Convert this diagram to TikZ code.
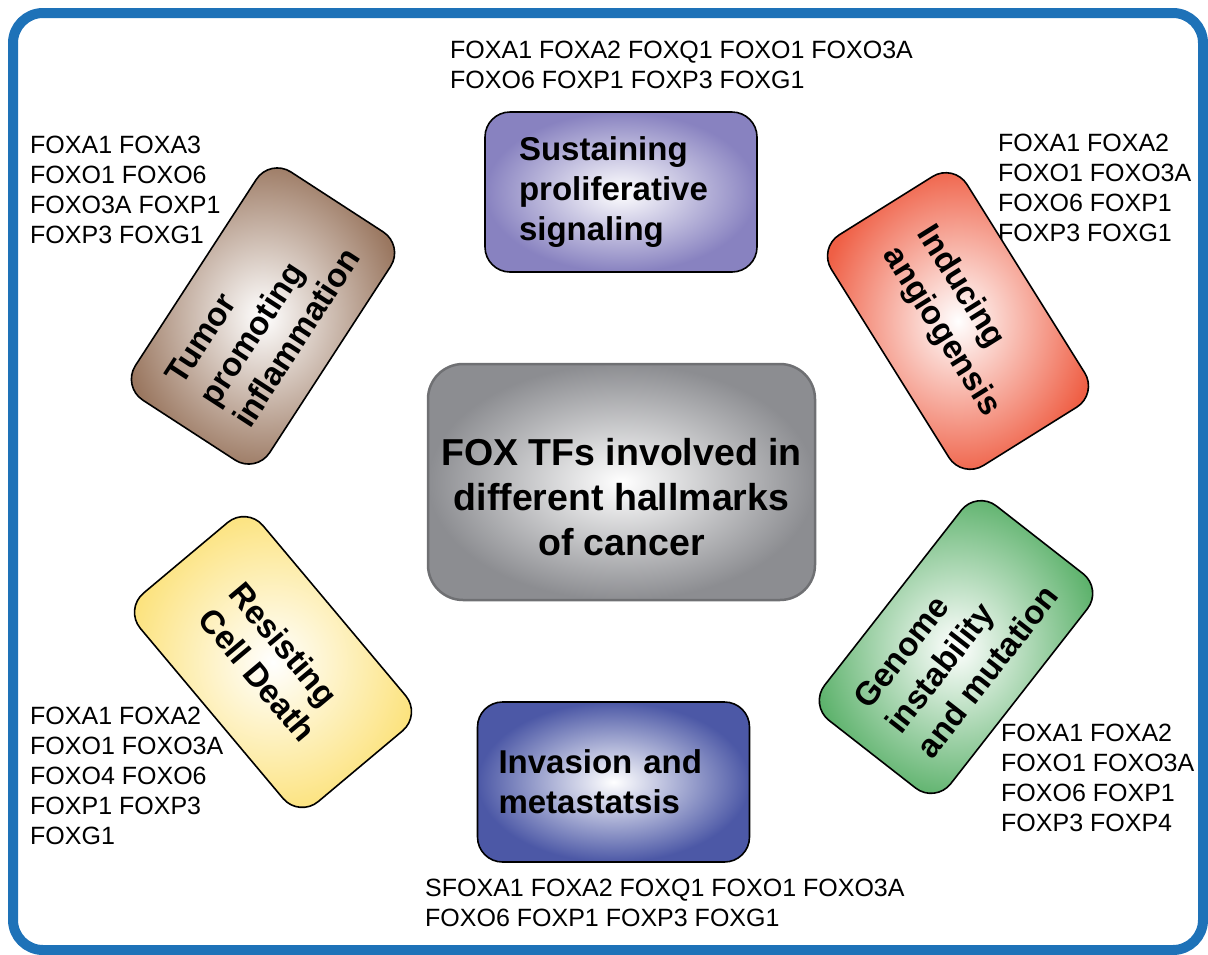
\documentclass[tikz,border=0pt]{standalone}
\usepackage{fontspec}
\setmainfont{Liberation Sans}
\usepackage{tikz}

\definecolor{frameblue}{HTML}{1E72B8}
\definecolor{sustainpurple}{HTML}{8882C0}
\definecolor{angiored}{HTML}{EF5F45}
\definecolor{inflambrown}{HTML}{9A7760}
\definecolor{hubgray}{HTML}{8C8D91}
\definecolor{hubedge}{HTML}{6F7073}
\definecolor{deathyellow}{HTML}{FCE27B}
\definecolor{genomegreen}{HTML}{5BB16A}
\definecolor{invasionblue}{HTML}{4C58A6}

\begin{document}
\begin{tikzpicture}[x=1pt,y=-1pt,
    hallmark/.style={draw=black,line width=1.6pt,rounded corners=25pt,
      minimum width=272pt,minimum height=160pt,inner color=white,outer color=#1,
      align=left,font=\fontsize{33}{40}\selectfont\bfseries},
    genes/.style={anchor=north west,inner sep=0pt,align=left,
      font=\fontsize{25}{30}\selectfont}]
  \useasboundingbox (0,0) rectangle (1208,954);

  % Outer frame
  \draw[frameblue,line width=10pt,rounded corners=30pt] (13,13) rectangle (1203,950);

  % Gene lists next to each hallmark
  \node[genes] (g-sustain) at (450,41) {FOXA1 FOXA2 FOXQ1 FOXO1 FOXO3A\\FOXO6 FOXP1 FOXP3 FOXG1};
  \node[genes] (g-inflam) at (30,136) {FOXA1 FOXA3\\FOXO1 FOXO6\\FOXO3A FOXP1\\FOXP3 FOXG1};
  \node[genes] (g-angio) at (998,134) {FOXA1 FOXA2\\FOXO1 FOXO3A\\FOXO6 FOXP1\\FOXP3 FOXG1};
  \node[genes] (g-death) at (30,707) {FOXA1 FOXA2\\FOXO1 FOXO3A\\FOXO4 FOXO6\\FOXP1 FOXP3\\FOXG1};
  \node[genes] (g-genome) at (1001,724) {FOXA1 FOXA2\\FOXO1 FOXO3A\\FOXO6 FOXP1\\FOXP3 FOXP4};
  \node[genes] (g-invasion) at (425,879) {SFOXA1 FOXA2 FOXQ1 FOXO1 FOXO3A\\FOXO6 FOXP1 FOXP3 FOXG1};

  % Central box
  \node[draw=hubedge,line width=2.5pt,rounded corners=35pt,minimum width=387pt,
    minimum height=236pt,inner color=white,outer color=hubgray] (hub) at (621.5,482) {};
  \node[align=center,font=\fontsize{37.5}{45}\selectfont\bfseries] (hubtext)
    at ([yshift=-15pt]hub.center) {FOX TFs involved in\\different hallmarks\\of cancer};

  % Hallmarks around the centre
  \node[hallmark=sustainpurple,inner xsep=34pt,text width=204pt] (sustain)
    at (621,192) {Sustaining\\proliferative\\signaling};
  \node[hallmark=angiored,rotate=-58] (angio) at (958,321) {Inducing\\angiogensis};
  \node[hallmark=inflambrown,rotate=57] (inflam) at (263,316) {Tumor\\promoting\\inflammation};
  \node[hallmark=deathyellow,rotate=-50] (death) at (273,662) {Resisting\\Cell Death};
  \node[hallmark=genomegreen,rotate=52] (genome) at (956,647) {Genome\\instability\\and mutation};
  \node[hallmark=invasionblue,inner xsep=21pt,text width=230pt] (invasion)
    at (613.5,782) {Invasion and\\metastatsis};

\end{tikzpicture}
\end{document}
